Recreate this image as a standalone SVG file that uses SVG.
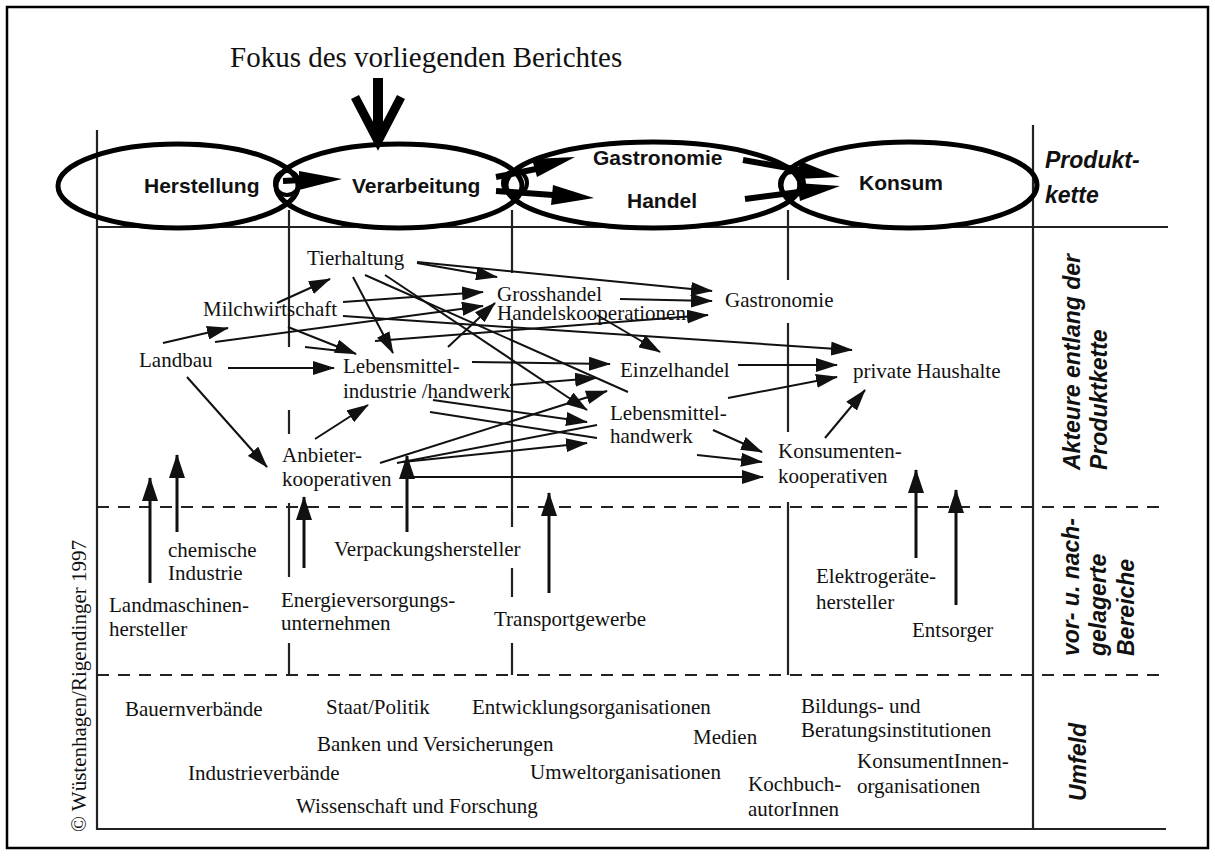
<svg xmlns="http://www.w3.org/2000/svg" width="1215" height="856" viewBox="0 0 1215 856">
<defs>
<style>
.s{font-family:"Liberation Serif","Times New Roman",serif;font-size:21px;fill:#111}
.h{font-family:"Liberation Sans",Arial,sans-serif;font-weight:bold;font-size:21px;fill:#111}
.side{font-family:"Liberation Sans",Arial,sans-serif;font-weight:bold;font-style:italic;font-size:23px;fill:#111}
.grid{stroke:#222;stroke-width:2.2;fill:none}
.dash{stroke:#222;stroke-width:2.2;fill:none;stroke-dasharray:12 9}
.con{stroke:#111;stroke-width:2;fill:none}
.arr{stroke:#111;stroke-width:2;fill:none;marker-end:url(#ah)}
.up{stroke:#111;stroke-width:3;fill:none;marker-end:url(#uh)}
.ell{stroke:#000;stroke-width:5;fill:none}
.cir{stroke:#000;stroke-width:4;fill:none}
.big{fill:#000;stroke:none}
.bar{stroke:#000;stroke-width:6;fill:none}
</style>
<marker id="ah" viewBox="0 0 22 14" refX="21" refY="7" markerWidth="22" markerHeight="14" markerUnits="userSpaceOnUse" orient="auto">
<path d="M0,0 L22,7 L0,14 z" fill="#111"/>
</marker>
<marker id="uh" viewBox="0 0 24 16" refX="23" refY="8" markerWidth="24" markerHeight="16" markerUnits="userSpaceOnUse" orient="auto">
<path d="M0,0 L24,8 L0,16 z" fill="#111"/>
</marker>
</defs>
<rect x="0" y="0" width="1215" height="856" fill="#fff"/>
<rect x="7" y="7" width="1201" height="841" fill="none" stroke="#000" stroke-width="2.5"/>

<g id="grid">
<line class="grid" x1="97" y1="130" x2="97" y2="830"/>
<line class="grid" x1="1033" y1="125" x2="1033" y2="830"/>
<line class="grid" x1="97" y1="227" x2="1168" y2="227"/>
<line class="dash" x1="97" y1="507" x2="1165" y2="507"/>
<line class="dash" x1="97" y1="675" x2="1165" y2="675"/>
<line class="grid" x1="97" y1="829" x2="1166" y2="829"/>
<path class="grid" d="M289,210 V347 M289,410 V434 M289,503 V577 M289,643 V675"/>
<path class="grid" d="M512,210 V273 M512,320 V527 M512,568 V597 M512,643 V675"/>
<path class="grid" d="M788,210 V280 M788,323 V432 M788,502 V675"/>
</g>

<g id="title">
<text x="230" y="67" font-family="Liberation Serif,Times New Roman,serif" font-size="29" fill="#111">Fokus des vorliegenden Berichtes</text>
<line x1="378" y1="78" x2="378" y2="138" stroke="#000" stroke-width="10"/>
<polyline points="355,97 378,141 401,97" fill="none" stroke="#000" stroke-width="9" stroke-linejoin="miter"/>
</g>

<g id="produktkette">
<ellipse class="ell" cx="178" cy="186" rx="120" ry="42"/>
<ellipse class="ell" cx="399" cy="186" rx="123" ry="42"/>
<ellipse class="ell" cx="653" cy="185" rx="147" ry="43"/>
<ellipse class="ell" cx="909" cy="185" rx="128" ry="43"/>
<circle class="cir" cx="287" cy="183" r="12"/>
<circle class="cir" cx="515" cy="183" r="12"/>
<circle class="cir" cx="792" cy="184" r="12"/>
<line class="bar" x1="283" y1="181" x2="302" y2="180"/>
<polygon class="big" points="299,171 342,179 299,190"/>
<line class="bar" x1="496" y1="177" x2="536" y2="169"/>
<polygon class="big" points="532,159 575,157 537,177"/>
<line class="bar" x1="496" y1="191" x2="553" y2="195"/>
<polygon class="big" points="553,185 594,198 551,205"/>
<line class="bar" x1="743" y1="160" x2="800" y2="170"/>
<polygon class="big" points="800,161 840,177 797,179"/>
<line class="bar" x1="745" y1="199" x2="799" y2="192"/>
<polygon class="big" points="797,183 840,186 800,201"/>
</g>
<g id="n-herstellung"><text class="h" x="144" y="193">Herstellung</text></g>
<g id="n-verarbeitung"><text class="h" x="352" y="193">Verarbeitung</text></g>
<g id="n-gastro-handel"><text class="h" x="593" y="165">Gastronomie</text><text class="h" x="627" y="208">Handel</text></g>
<g id="n-konsum"><text class="h" x="859" y="190">Konsum</text></g>

<g id="labels">
<text class="side" x="1045" y="168" font-size="24">Produkt-</text>
<text class="side" x="1045" y="203" font-size="24">kette</text>
<text class="side" transform="translate(1080,470) rotate(-90)" font-size="24.5">Akteure entlang der</text>
<text class="side" transform="translate(1107,470) rotate(-90)" font-size="24">Produktkette</text>
<text class="side" transform="translate(1079,656) rotate(-90)">vor- u. nach-</text>
<text class="side" transform="translate(1106,656) rotate(-90)">gelagerte</text>
<text class="side" transform="translate(1134,656) rotate(-90)">Bereiche</text>
<text class="side" transform="translate(1086,801) rotate(-90)" font-size="25">Umfeld</text>
<text class="s" transform="translate(86,832) rotate(-90)" font-size="24">© Wüstenhagen/Rigendinger 1997</text>
</g>

<g id="n-tierhaltung"><text class="s" x="307" y="265">Tierhaltung</text></g>
<g id="n-milch"><text class="s" x="203" y="316">Milchwirtschaft</text></g>
<g id="n-landbau"><text class="s" x="139" y="367">Landbau</text></g>
<g id="n-grosshandel"><text class="s" x="497" y="301">Grosshandel</text><text class="s" x="497" y="320">Handelskooperationen</text></g>
<g id="n-gastronomie"><text class="s" x="725" y="307">Gastronomie</text></g>
<g id="n-lmi"><text class="s" x="343" y="373">Lebensmittel-</text><text class="s" x="343" y="398">industrie /handwerk</text></g>
<g id="n-einzel"><text class="s" x="620" y="377">Einzelhandel</text></g>
<g id="n-private"><text class="s" x="853" y="378">private Haushalte</text></g>
<g id="n-lmh"><text class="s" x="610" y="420">Lebensmittel-</text><text class="s" x="610" y="443">handwerk</text></g>
<g id="n-anbieter"><text class="s" x="282" y="462">Anbieter-</text><text class="s" x="282" y="486">kooperativen</text></g>
<g id="n-konsumenten"><text class="s" x="778" y="458">Konsumenten-</text><text class="s" x="778" y="483">kooperativen</text></g>

<g id="n-chem"><text class="s" x="168" y="557">chemische</text><text class="s" x="168" y="580">Industrie</text></g>
<g id="n-landmasch"><text class="s" x="109" y="612">Landmaschinen-</text><text class="s" x="109" y="636">hersteller</text></g>
<g id="n-energie"><text class="s" x="281" y="607">Energieversorgungs-</text><text class="s" x="281" y="630">unternehmen</text></g>
<g id="n-verpack"><text class="s" x="334" y="556">Verpackungshersteller</text></g>
<g id="n-transport"><text class="s" x="494" y="626">Transportgewerbe</text></g>
<g id="n-elektro"><text class="s" x="816" y="583">Elektrogeräte-</text><text class="s" x="816" y="609">hersteller</text></g>
<g id="n-entsorger"><text class="s" x="912" y="637">Entsorger</text></g>

<g id="umfeld">
<text class="s" x="125" y="716">Bauernverbände</text>
<text class="s" x="326" y="714">Staat/Politik</text>
<text class="s" x="472" y="714">Entwicklungsorganisationen</text>
<text class="s" x="801" y="713">Bildungs- und</text>
<text class="s" x="801" y="737">Beratungsinstitutionen</text>
<text class="s" x="317" y="751">Banken und Versicherungen</text>
<text class="s" x="693" y="744">Medien</text>
<text class="s" x="188" y="780">Industrieverbände</text>
<text class="s" x="530" y="779">Umweltorganisationen</text>
<text class="s" x="857" y="768">KonsumentInnen-</text>
<text class="s" x="857" y="793">organisationen</text>
<text class="s" x="748" y="791">Kochbuch-</text>
<text class="s" x="748" y="816">autorInnen</text>
<text class="s" x="296" y="813">Wissenschaft und Forschung</text>
</g>

<g id="connectors">
<line class="arr" x1="277" y1="303" x2="330" y2="279"/>
<line class="arr" x1="163" y1="343" x2="228" y2="328"/>
<line class="arr" x1="417" y1="263" x2="497" y2="277"/>
<line class="arr" x1="417" y1="262" x2="712" y2="291"/>
<line class="arr" x1="343" y1="302" x2="483" y2="292"/>
<line class="arr" x1="215" y1="342" x2="483" y2="306"/>
<line class="arr" x1="343" y1="316" x2="852" y2="350"/>
<line class="arr" x1="228" y1="368" x2="334" y2="368"/>
<line class="arr" x1="288" y1="327" x2="356" y2="354"/>
<line class="con" x1="305" y1="347" x2="350" y2="352"/>
<line class="arr" x1="353" y1="277" x2="393" y2="353"/>
<line class="arr" x1="375" y1="341" x2="708" y2="315"/>
<line class="arr" x1="448" y1="347" x2="495" y2="303"/>
<line class="arr" x1="385" y1="275" x2="587" y2="410"/>
<line class="con" x1="365" y1="275" x2="628" y2="392"/>
<line class="arr" x1="472" y1="362" x2="610" y2="364"/>
<line class="arr" x1="510" y1="385" x2="596" y2="378"/>
<line class="arr" x1="433" y1="400" x2="587" y2="422"/>
<line class="con" x1="430" y1="412" x2="597" y2="438"/>
<line class="arr" x1="380" y1="463" x2="607" y2="391"/>
<line class="con" x1="397" y1="463" x2="597" y2="425"/>
<line class="arr" x1="403" y1="462" x2="587" y2="443"/>
<line class="arr" x1="410" y1="477" x2="763" y2="477"/>
<line class="arr" x1="187" y1="377" x2="267" y2="467"/>
<line class="arr" x1="315" y1="439" x2="368" y2="405"/>
<line class="arr" x1="620" y1="299" x2="712" y2="301"/>
<line class="arr" x1="597" y1="315" x2="660" y2="352"/>
<line class="arr" x1="738" y1="365" x2="837" y2="365"/>
<line class="arr" x1="728" y1="398" x2="837" y2="377"/>
<line class="arr" x1="825" y1="438" x2="865" y2="390"/>
<line class="arr" x1="713" y1="430" x2="762" y2="452"/>
<line class="arr" x1="697" y1="455" x2="762" y2="462"/>
<line class="up" x1="150" y1="583" x2="150" y2="478"/>
<line class="up" x1="177" y1="532" x2="177" y2="455"/>
<line class="up" x1="304" y1="568" x2="304" y2="497"/>
<line class="up" x1="407" y1="532" x2="407" y2="456"/>
<line class="up" x1="549" y1="593" x2="549" y2="493"/>
<line class="up" x1="916" y1="558" x2="916" y2="470"/>
<line class="up" x1="956" y1="605" x2="956" y2="490"/>
</g>
</svg>
